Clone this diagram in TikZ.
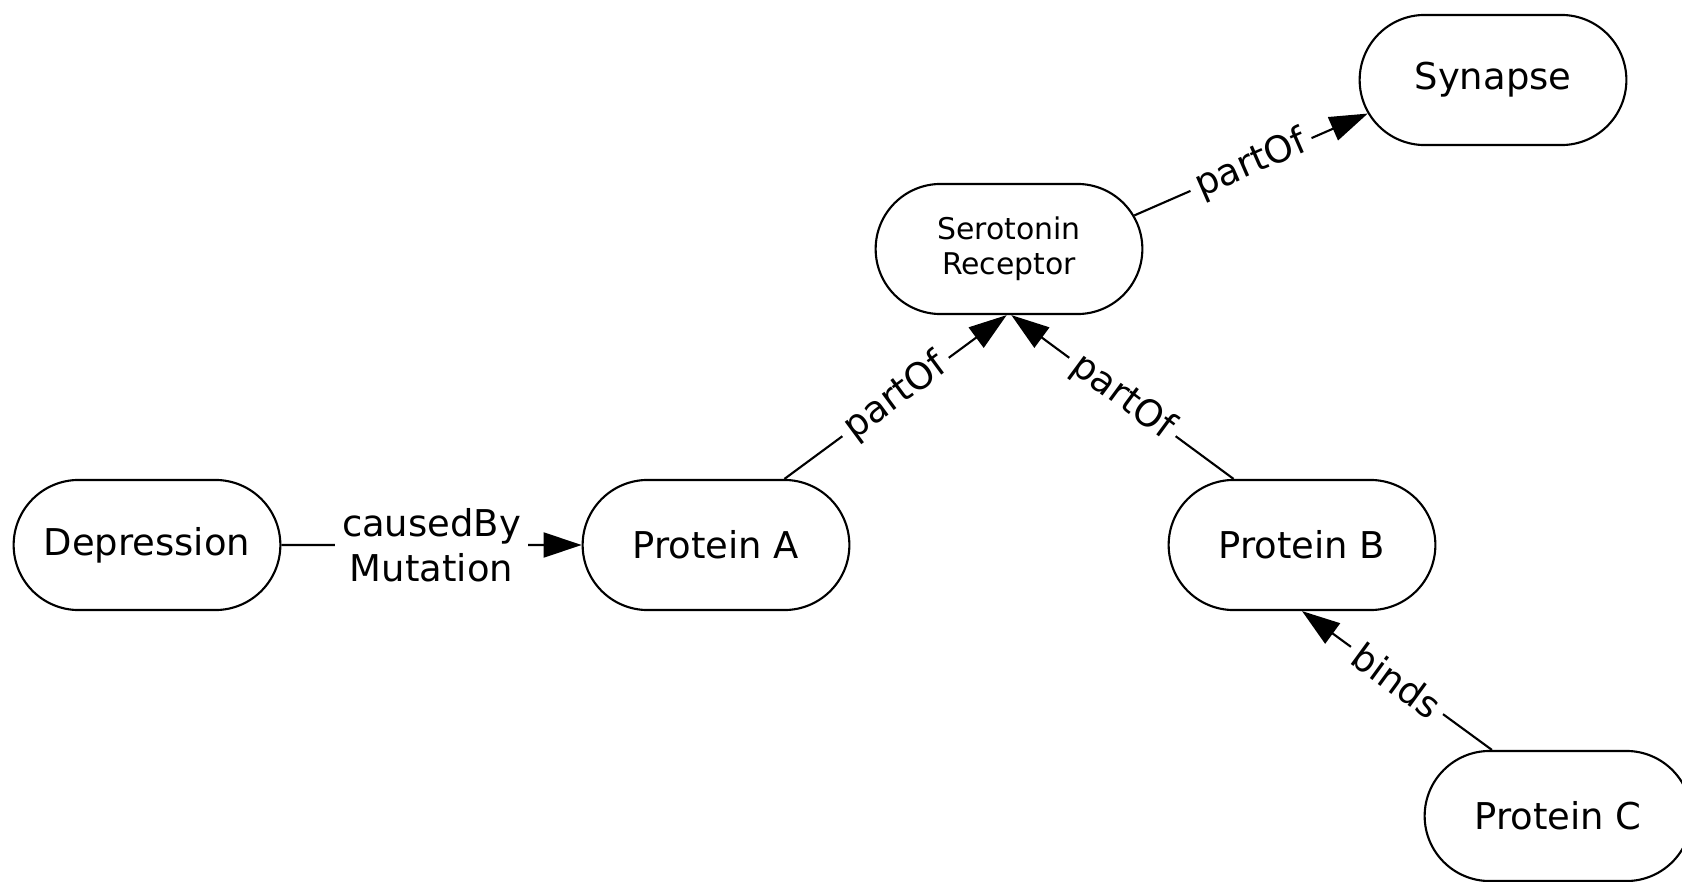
\documentclass[tikz,border=0pt]{standalone}
\usepackage{fontspec}
\setmainfont{DejaVu Sans}
\usepackage{tikz}
\usetikzlibrary{shapes.misc, arrows.meta, positioning}

\begin{document}
\begin{tikzpicture}[x=0.01cm, y=-0.01cm, >={Triangle[length=3.8mm, width=2.5mm]},
    concept/.style={rounded rectangle, draw, line width=0.6pt, minimum width=2.9cm, minimum height=1.3cm, align=center, font=\fontsize{10.5}{12.8}\selectfont},
    line/.style={draw, ->, line width=0.6pt},
    rel/.style={fill=white, inner sep=2pt, align=center, font=\fontsize{10.5}{12.8}\selectfont}]
    \useasboundingbox (0,0) rectangle (1682,882);

    \node [concept] (depression) at (147,545) {Depression};
    \node [concept] (proteinA) at (716,545) {Protein A};
    \node [concept] (proteinB) at (1302,545) {Protein B};
    \node [concept] (proteinC) at (1558,816) {Protein C};
    \node [concept, font=\fontsize{8.5}{10}\selectfont] (receptor) at (1009,249) {Serotonin\\Receptor};
    \node [concept] (synapse) at (1493,80) {Synapse};

    \path [line] (depression) -- node [rel] {causedBy\\Mutation} (proteinA);
    \path [line] (proteinA.44) -- node [rel, sloped] {partOf} (receptor.268);
    \path [line] (proteinB.136) -- node [rel, sloped] {partOf} (receptor.272);
    \path [line] (receptor.15) -- node [rel, sloped] {partOf} (synapse.195);
    \path [line] (proteinC.135) -- node [rel, sloped] {binds} (proteinB.south);
\end{tikzpicture}
\end{document}
